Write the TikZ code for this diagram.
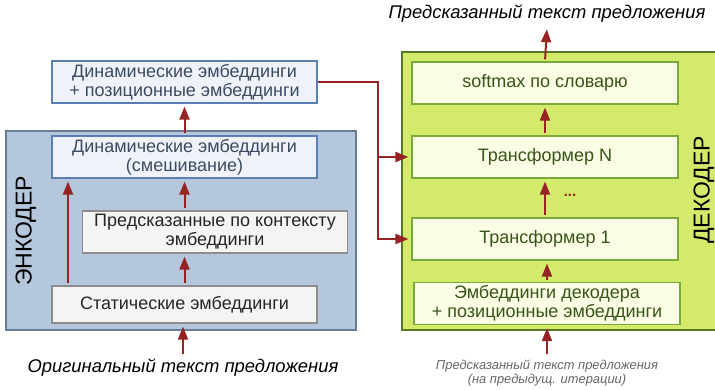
\documentclass[tikz,border=0pt]{standalone}
\usepackage{fontspec}
\setmainfont{Liberation Sans}
\usetikzlibrary{positioning,arrows.meta}

\definecolor{encFill}{RGB}{180,199,220}
\definecolor{encLine}{RGB}{105,125,150}
\definecolor{dynFill}{RGB}{239,243,249}
\definecolor{dynLine}{RGB}{91,127,181}
\definecolor{dynText}{RGB}{60,75,98}
\definecolor{grayFill}{RGB}{244,244,244}
\definecolor{grayLine}{RGB}{140,140,140}
\definecolor{decFill}{RGB}{212,234,107}
\definecolor{decLine}{RGB}{85,120,40}
\definecolor{decBoxFill}{RGB}{250,252,228}
\definecolor{decBoxLine}{RGB}{120,170,60}
\definecolor{decText}{RGB}{55,85,25}
\definecolor{arrowRed}{RGB}{150,35,35}

\begin{document}
\begin{tikzpicture}[x=1pt,y=-1pt,
    box/.style={draw, line width=1.2pt, align=center, inner sep=1pt,
        font=\fontsize{18}{19}\selectfont, minimum height=42pt},
    dynBox/.style={box, fill=dynFill, draw=dynLine, text=dynText, minimum width=265pt},
    grayBox/.style={box, fill=grayFill, draw=grayLine, text=black!85, minimum width=265pt},
    decBox/.style={box, fill=decBoxFill, draw=decBoxLine, text=decText, minimum width=266pt},
    frame/.style={line width=1.2pt},
    caption/.style={font=\fontsize{18.4}{20}\selectfont\itshape},
    arr/.style={draw=arrowRed, line width=2pt, shorten <=2pt, shorten >=3pt,
        -{Triangle[length=13pt,width=10pt]}}
]
\useasboundingbox (0,0) rectangle (715,389);

% frames
\draw[frame, fill=encFill, draw=encLine] (6,131) rectangle (356,330);
\draw[frame, fill=decFill, draw=decLine] (402,52) rectangle (717,330);
\node[rotate=90, font=\fontsize{23}{25}\selectfont] (encLabel) at (26,231) {ЭНКОДЕР};
\node[rotate=90, font=\fontsize{23}{25}\selectfont] (decLabel) at (704,190) {ДЕКОДЕР};

% encoder
\node[dynBox] (encOut) at (184.5,82) {Динамические эмбеддинги\\+ позиционные эмбеддинги};
\node[dynBox] (dynEmb) at (184.5,157) {Динамические эмбеддинги\\(смешивание)};
\node[grayBox] (predEmb) at (215,232) {Предсказанные по контексту\\эмбеддинги};
\node[grayBox, minimum height=37pt] (staticEmb) at (184.5,304.5) {Статические эмбеддинги};
\node[caption] (origText) at (183,368) {Оригинальный текст предложения};

% decoder
\node[decBox] (softmax) at (545,83) {softmax по словарю};
\node[decBox] (transN) at (545,157) {Трансформер N};
\node[decBox] (trans1) at (545,239) {Трансформер 1};
\node[decBox] (decEmb) at (547,303.5) {Эмбеддинги декодера\\+ позиционные эмбеддинги};
\node[text=arrowRed, font=\fontsize{15}{15}\selectfont\bfseries] (dots) at (570,195) {...};
\node[caption] (predText) at (547,14) {Предсказанный текст предложения};
\node[font=\fontsize{12.9}{14}\selectfont\itshape, text=black!60, align=center] (prevText) at (547,373)
    {Предсказанный текст предложения\\(на предыдущ. итерации)};

\coordinate (bus) at (378,82);

\draw[arr] (origText.north) -- (origText.north |- staticEmb.south);
\draw[arr] (staticEmb.north) -- (staticEmb.north |- predEmb.south);
\draw[arr] (predEmb.north -| staticEmb.north) -- (staticEmb.north |- dynEmb.south);
\draw[arr] ([xshift=-116.5pt]staticEmb.north) -- ([xshift=-116.5pt]dynEmb.south);
\draw[arr] (dynEmb.north) -- (encOut.south);
\draw[arr, shorten <=0pt] (encOut.east) -- (bus) |- (trans1.west);
\draw[arr, shorten <=0pt] (bus |- transN.west) -- (transN.west);

\draw[arr] (prevText.north) -- (prevText.north |- decEmb.south);
\draw[arr] (decEmb.north) -- (decEmb.north |- trans1.south);
\draw[arr] (trans1.north) -- (transN.south);
\draw[arr] (transN.north) -- (softmax.north |- softmax.south);
\draw[arr] (softmax.north) -- (predText.south);
\end{tikzpicture}
\end{document}
